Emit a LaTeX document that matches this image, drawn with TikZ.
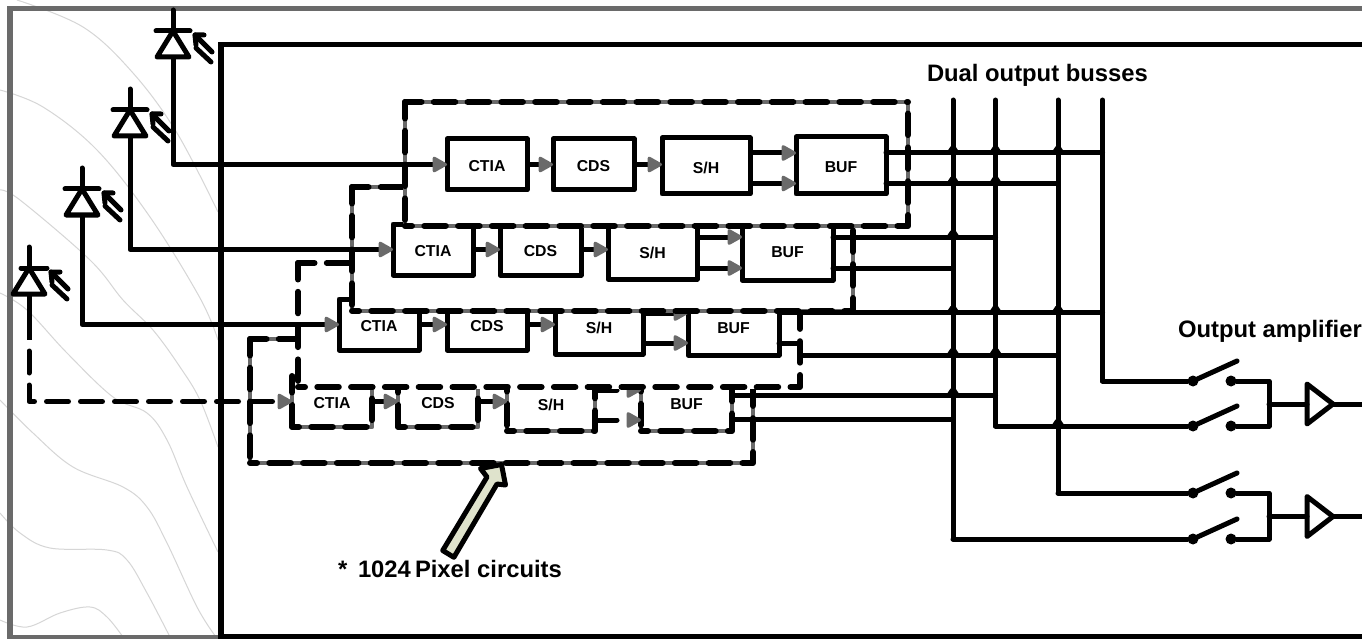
\documentclass[tikz,border=0pt]{standalone}
\usepackage{fontspec}
\setmainfont{Liberation Sans}
\usetikzlibrary{arrows.meta}
\definecolor{hg}{HTML}{6A6A6A}
\definecolor{contour}{HTML}{D6D6D6}
\definecolor{beige}{HTML}{DFE3CC}
\tikzset{
  wire/.style={line width=5pt,line cap=round,line join=round,draw=black},
  flow/.style={wire,line cap=butt,-{Triangle[length=16pt,width=17pt,round,color=hg,line width=3pt]}},
  dashflow/.style={flow,dash pattern=on 22pt off 12pt,line cap=round},
  dashk/.style={line width=6pt,line cap=round,line join=round,draw=black,dash pattern=on 21.5pt off 12.3pt},
  cell/.style={rectangle,draw=black,line width=5pt,inner sep=0pt,outer sep=0pt,line join=round,font=\fontsize{15.8}{18}\selectfont\bfseries},
  graycell/.style={cell,draw=hg,line width=4.5pt},
  groupbox/.style={rectangle,fill=white,line width=4.5pt,inner sep=0pt,outer sep=0pt},
  lbl/.style={inner sep=0pt,outer sep=0pt,font=\fontsize{23.8}{28}\selectfont\bfseries},
  bg/.style={draw=contour,line width=1pt},
  swdot/.style={circle,fill=black,draw=none,minimum size=11pt,inner sep=0pt,outer sep=0pt},
}
\newcommand\celltext[1]{\raisebox{-1.4pt}[\height][0pt]{#1}}
% name x1 y1 x2 y2 text
\newcommand\cellbox[6]{\node[cell,minimum width={(#4-#2)*1pt},minimum height={(#5-#3)*1pt}] (#1) at ({(#2+#4)/2},{(#3+#5)/2}) {\celltext{#6}};}
\newcommand\cellgray[6]{\node[graycell,minimum width={(#4-#2)*1pt},minimum height={(#5-#3)*1pt}] (#1) at ({(#2+#4)/2},{(#3+#5)/2}) {\celltext{#6}};
  \draw[dashk,dash phase=5pt] (#1.north west) -- (#1.south west);
  \draw[dashk,dash phase=14.5pt] (#1.south west) -- (#1.south east) -- (#1.north east);}
% name x1 y1 x2 y2 gapcolor
\newcommand\grpbox[6]{\node[groupbox,draw=#6,minimum width={(#4-#2)*1pt},minimum height={(#5-#3)*1pt}] (#1) at ({(#2+#4)/2},{(#3+#5)/2}) {};
  \draw[dashk,dash phase=5pt] (#1.north west) -- (#1.north east);
  \draw[dashk,dash phase=5pt] (#1.north west) -- (#1.south west);
  \draw[dashk,dash phase=14.5pt] (#1.south west) -- (#1.south east) -- (#1.north east);}
% name x ytop barleft barright
\newcommand\diode[5]{\begin{scope}[shift={(#2,#3)}]
  \draw[wire] (0,0) -- (0,21);
  \draw[wire] (#4,21) -- (#5,21);
  \draw[wire] (0,21) -- (-16,47) -- (16,47) -- cycle;
  \draw[wire] (31,25) -- (22,25) -- (23,35);
  \draw[wire] (22,25) -- (39,42);
  \draw[wire] (23,38) -- (38,52);
  \coordinate (#1) at (0,47);
\end{scope}}
% junction bump at bus / level
\newcommand\junct[2]{\fill[shift={(#1 |- #2)}] (-7.5,1) -- (-2.5,-6.5) -- (2.5,-6.5) -- (7.5,1) -- cycle;}
% switch: name y
\newcommand\switchpair[2]{
  \node[swdot] (#1l) at (1193,#2) {};
  \node[swdot] (#1r) at (1231,#2) {};
  \draw[wire] (#1l) -- (1237,#2-20);}
% amp: name y
\newcommand\amp[2]{
  \coordinate (#1in) at (1307,#2);
  \coordinate (#1out) at (1333,#2);
  \coordinate (#1end) at (1362,#2);
  \draw[wire] (1307,#2-20) -- (1333,#2) -- (1307,#2+20) -- cycle;
  \draw[wire,line cap=butt] (#1out) -- (#1end);}
\begin{document}
\begin{tikzpicture}[x=1pt,y=-1pt]
\useasboundingbox (0,0) rectangle (1362,639);
\fill[white] (0,0) rectangle (1362,639);
% background contours
\draw[bg] plot[smooth,tension=0.6] coordinates {(17,0) (83,27) (133,73) (177,133) (218,212)};
\draw[bg] plot[smooth,tension=0.6] coordinates {(0,90) (43,107) (97,150) (150,217) (200,298) (218,340)};
\draw[bg] plot[smooth,tension=0.6] coordinates {(0,190) (20,200) (90,260) (123,300) (153,330) (180,367) (200,400) (218,447)};
\draw[bg] plot[smooth,tension=0.6] coordinates {(0,293) (27,310) (67,353) (113,397) (147,413) (167,440) (187,487) (218,552)};
\draw[bg] plot[smooth,tension=0.6] coordinates {(0,400) (33,433) (73,467) (123,487) (147,507) (167,543) (197,607) (216,637)};
\draw[bg] plot[smooth,tension=0.6] coordinates {(0,513) (20,533) (50,548) (107,550) (127,560) (147,593) (170,637)};
\draw[bg] plot[smooth,tension=0.6] coordinates {(0,620) (27,627) (60,613) (90,607) (107,617) (123,637)};
% outer frame
\draw[draw=hg,line width=5.5pt] (1362,8.5) -- (10,8.5) -- (10,637.5) -- (221,637.5);
\draw[line width=5.2pt] (1362,44.5) -- (221,44.5) -- (221,636.8) -- (1362,636.8);
% bus coordinates
\coordinate (busA) at (953,100);
\coordinate (busB) at (995.5,100);
\coordinate (busC) at (1058,100);
\coordinate (busD) at (1102.5,100);
\coordinate (lvA) at (1103,381);
\coordinate (lvB) at (995.5,426);
\coordinate (lvC) at (1058,493);
\coordinate (lvD) at (953,539);
% photodiodes
\diode{dA}{173}{10}{-17}{17}
\diode{dB}{130}{89}{-17}{17}
\diode{dC}{82}{168}{-17}{17}
\diode{dD}{29}{247}{-8}{18}
% ---- row 4
\grpbox{grpD}{250}{339}{753}{463}{hg}
\cellgray{ctiaD}{292}{376}{372}{427}{CTIA}
\cellgray{cdsD}{398}{376}{478}{427}{CDS}
\cellgray{shD}{507}{375}{595}{431}{S/H}
\cellgray{bufD}{641}{375}{732}{431}{BUF}
\coordinate (uD) at (0,390);
\coordinate (lD) at (0,420);
\coordinate (dDa) at (29,340);
\coordinate (dDb) at (29,351);
\draw[wire,line cap=butt] (dD) -- (dDa);
\draw[dashflow] (dDb) |- (ctiaD.west);
\draw[flow] (ctiaD.east) -- (cdsD.west);
\draw[flow] (cdsD.east) -- (cdsD.east -| shD.west);
\draw[dashflow] (shD.east |- uD) -- (bufD.west |- uD);
\draw[dashflow] (shD.east |- lD) -- (bufD.west |- lD);
% ---- row 3
\grpbox{grpC}{298}{263}{800}{387}{white}
\cellbox{ctiaC}{339}{299}{419}{350}{CTIA}
\cellbox{cdsC}{447}{299}{527}{350}{CDS}
\cellbox{shC}{555}{298}{643}{354}{S/H}
\cellbox{bufC}{688}{298}{779}{355}{BUF}
\coordinate (uC) at (0,313);
\coordinate (lC) at (0,343);
\draw[flow] (dC) |- (ctiaC.west);
\draw[flow] (ctiaC.east) -- (cdsC.west);
\draw[flow] (cdsC.east) -- (cdsC.east -| shC.west);
\draw[flow] (shC.east |- uC) -- (bufC.west |- uC);
\draw[flow] (shC.east |- lC) -- (bufC.west |- lC);
% ---- row 2
\grpbox{grpB}{352}{187}{853}{311}{hg}
\cellbox{ctiaB}{393}{224}{473}{275}{CTIA}
\cellbox{cdsB}{500}{224}{581}{275}{CDS}
\cellbox{shB}{608}{223}{697}{279}{S/H}
\cellbox{bufB}{742}{222}{833}{280}{BUF}
\coordinate (uB) at (0,237);
\coordinate (lB) at (0,268);
\draw[flow] (dB) |- (ctiaB.west);
\draw[flow] (ctiaB.east) -- (cdsB.west);
\draw[flow] (cdsB.east) -- (cdsB.east -| shB.west);
\draw[flow] (shB.east |- uB) -- (bufB.west |- uB);
\draw[flow] (shB.east |- lB) -- (bufB.west |- lB);
% ---- row 1
\grpbox{grpA}{405}{102}{908}{226}{hg}
\cellbox{ctiaA}{447}{139}{527}{190}{CTIA}
\cellbox{cdsA}{553}{139}{634}{190}{CDS}
\cellbox{shA}{662}{138}{750}{194}{S/H}
\cellbox{bufA}{796}{137}{886}{194}{BUF}
\coordinate (uA) at (0,153);
\coordinate (lA) at (0,183.5);
\draw[flow] (dA) |- (ctiaA.west);
\draw[flow] (ctiaA.east) -- (cdsA.west);
\draw[flow] (cdsA.east) -- (cdsA.east -| shA.west);
\draw[flow] (shA.east |- uA) -- (bufA.west |- uA);
\draw[flow] (shA.east |- lA) -- (bufA.west |- lA);
% buses
\draw[wire] (busA) -- (busA |- lvD);
\draw[wire] (busB) -- (busB |- lvB);
\draw[wire] (busC) -- (busC |- lvC);
\draw[wire] (busD) -- (busD |- lvA);
% outputs
\draw[wire] (bufA.east |- uA) -- (busD |- uA);
\draw[wire] (bufA.east |- lA) -- (busC |- lA);
\draw[wire] (bufB.east |- uB) -- (busB |- uB);
\draw[wire] (bufB.east |- lB) -- (busA |- lB);
\coordinate (oC1) at (0,312.7);
\coordinate (oC2) at (0,355);
\coordinate (kink) at (800,343);
\draw[wire] (bufC.east |- oC1) -- (busD |- oC1);
\draw[wire] (bufC.east |- lC) -- (kink) -- (kink |- oC2) -- (busC |- oC2);
\coordinate (oD1) at (0,395);
\coordinate (oD2) at (0,419.5);
\draw[wire] (bufD.east |- oD1) -- (busB |- oD1);
\draw[wire] (bufD.east |- oD2) -- (busA |- oD2);
% junctions
\junct{busA}{uA}\junct{busB}{uA}\junct{busC}{uA}
\junct{busA}{lA}\junct{busB}{lA}
\junct{busA}{uB}
\junct{busA}{oC1}\junct{busB}{oC1}\junct{busC}{oC1}
\junct{busA}{oC2}\junct{busB}{oC2}
\junct{busA}{oD1}
\junct{busC}{lvB}
% switches
\switchpair{swA}{381}
\switchpair{swB}{426}
\switchpair{swC}{493}
\switchpair{swD}{539}
\draw[wire] (busD |- lvA) -- (swAl);
\draw[wire] (busB |- lvB) -- (swBl);
\draw[wire] (busC |- lvC) -- (swCl);
\draw[wire] (busA |- lvD) -- (swDl);
\amp{ampA}{404}
\amp{ampB}{516.5}
\draw[wire] (swAr) -| (1269,404) |- (swBr);
\draw[wire] (swCr) -| (1269,516.5) |- (swDr);
\draw[wire] (1269,404) -- (ampAin);
\draw[wire] (1269,516.5) -- (ampBin);
% big arrow
\draw[line width=5pt,line join=round,fill=beige] (442.7,550.5) -- (487,477) -- (480.5,468.5) -- (501.5,464.5) -- (505.5,485) -- (497,484) -- (453.9,557.3) -- cycle;
% labels
\node[lbl,anchor=base west] (lblBus) at (927,81.5) {Dual output busses};
\node[lbl,anchor=base west] (lblAmp) at (1178,337) {Output amplifier};
\node[lbl,anchor=base west] (lblStar) at (338,577) {*};
\node[lbl,anchor=base west] (lblNum) at (358,577) {1024};
\node[lbl,anchor=base west] (lblPix) at (415,577) {Pixel circuits};
\end{tikzpicture}
\end{document}
